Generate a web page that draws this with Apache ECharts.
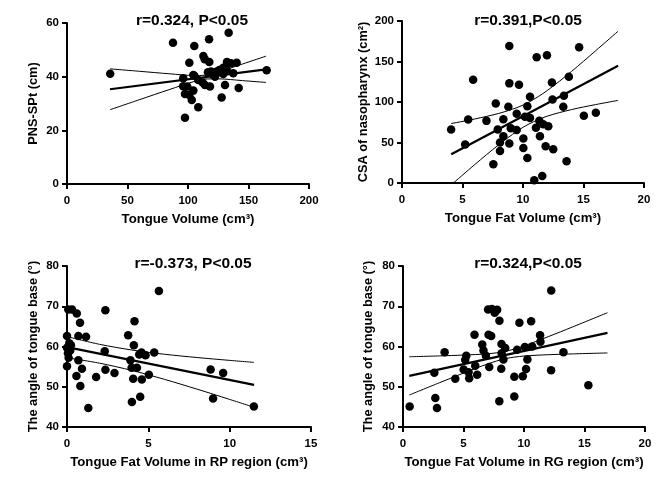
<!DOCTYPE html>
<html><head><meta charset="utf-8">
<script src="https://cdn.jsdelivr.net/npm/echarts@6/dist/echarts.min.js"></script>
<style>html,body{margin:0;padding:0;background:#fff}#c{width:669px;height:481px}</style>
</head><body><div id="c"></div>
<script>
// ---- Panel 1: Tongue Volume vs PNS-SPt ----
const p1Points = [[35.7,41.1],[87.6,52.6],[105.2,51.4],[117.4,53.9],[133.6,56.4],[101.1,45.2],[112.7,47.7],[113.8,46.5],[117.6,45.5],[132.2,45.5],[135.5,45.0],[140.2,45.2],[129.2,43.3],[132,42.5],[125.9,42.5],[123.7,41.9],[116.5,41.6],[120.9,40.6],[129.2,41.0],[137.4,41.3],[165,42.4],[104.4,40.6],[96.1,39.4],[108.5,38.8],[112.1,37.8],[114,36.9],[118.2,36.3],[122.3,40.0],[130.6,36.9],[141.9,35.8],[99.4,36.3],[96,36.4],[104.4,34.8],[97.5,33.5],[101.1,33.2],[103.1,31.3],[108.5,28.6],[127.8,32.2],[97.5,24.7],[119,41.9],[105.2,40.3]];
const p1Fit = [[35.5,35.3],[164.5,42.75]];
const p1Upper = [[35.5,42.92],[60,42.0],[85,41.06],[105,40.43],[114,40.53],[125,41.75],[145,44.71],[164.5,47.65]];
const p1Lower = [[35.5,27.68],[60,31.44],[85,35.26],[105,38.19],[114,39.13],[125,39.19],[145,38.53],[164.5,37.85]];

// ---- Panel 2: Tongue Fat Volume vs CSA of nasopharynx ----
const p2Points = [[8.87,169.1],[11.13,155.1],[11.98,157.6],[14.64,167.5],[5.88,127.4],[8.87,123],[9.67,121.2],[13.79,131.2],[12.39,124.2],[10.58,106.4],[12.44,103.2],[13.38,107.6],[7.75,98.2],[8.79,94],[10.36,94.8],[13.33,94],[5.47,78.4],[6.98,76.7],[8.38,78.8],[9.48,85.4],[10.16,81.7],[10.58,80.4],[11.35,76.7],[11.67,72.6],[12.09,70.1],[11.07,68.1],[15.03,82.9],[16.02,86.6],[4.06,66],[7.91,66],[8.99,67.7],[9.48,65.3],[8.38,57.8],[10.03,54.9],[11.4,57.8],[5.22,47.5],[8.1,50],[8.87,48.8],[10.03,43.3],[11.87,45.4],[12.5,41.7],[8.1,39.6],[10.36,30.9],[7.55,23.1],[13.6,26.8],[11.59,8.7],[10.93,3.3]];
const p2Fit = [[4.07,35.5],[17.86,144.7]];
const p2Upper = [[4.07,73.4],[6,79.0],[8,85.9],[9.5,93.1],[10.5,99.9],[12,114.1],[14,137.6],[16,163.2],[17.86,187.4]];
const p2Lower = [[4.25,0],[6,22.6],[8,47.3],[9.5,63.9],[10.5,72.9],[12,82.5],[14,90.6],[16,96.8],[17.86,102.0]];

// ---- Panel 3: Tongue Fat Volume in RP region vs angle ----
const p3Points = [[0.08,69.2],[0.31,69.2],[0.6,68.2],[0.8,65.9],[2.36,69.0],[5.65,73.8],[4.15,66.3],[0.0,62.6],[0.7,62.6],[1.17,62.4],[3.76,62.8],[4.11,60.3],[0.14,60.8],[0.24,60.3],[0.0,59.7],[0.2,59.0],[0.06,58.3],[0.1,57.2],[0.0,55.1],[0.7,56.6],[2.32,58.8],[2.36,54.2],[2.92,53.4],[3.9,56.6],[3.97,54.7],[4.3,54.7],[4.58,58.5],[4.83,57.8],[5.36,58.5],[4.44,58.0],[0.58,52.7],[0.92,54.5],[0.82,50.2],[1.79,52.4],[4.07,52.0],[4.6,51.8],[5.03,53.0],[1.31,44.7],[3.99,46.2],[4.5,47.5],[8.83,54.3],[9.6,53.4],[8.98,47.1],[11.49,45.1]];
const p3Fit = [[0,59.83],[11.5,50.48]];
const p3Upper = [[0,62.46],[2,60.54],[4,59.12],[6,58.07],[8,57.26],[10,56.55],[11.5,56.05]];
const p3Lower = [[0,57.2],[2,55.86],[4,54.04],[6,51.83],[8,49.4],[10,46.85],[11.5,44.91]];

// ---- Panel 4: Tongue Fat Volume in RG region vs angle ----
const p4Points = [[0.55,45.1],[2.59,53.5],[2.67,47.2],[2.81,44.7],[3.44,58.6],[4.32,52],[5.01,54.3],[5.14,56.7],[5.23,57.7],[5.42,53.6],[5.47,52.1],[5.97,55.2],[6.13,53],[5.91,62.9],[6.55,60.5],[6.65,59],[6.85,57.7],[7.13,54.9],[7.07,62.9],[7.29,62.6],[7.03,69.2],[7.35,69.3],[7.62,69.0],[7.78,69.1],[7.58,68.4],[7.97,66.4],[8.14,60.6],[8.15,58.3],[8.12,54.5],[8.3,56.8],[8.45,59.6],[7.96,46.4],[9.2,52.5],[9.2,47.6],[9.43,59.2],[9.62,65.9],[9.9,52.6],[10.07,59.9],[10.17,54.4],[10.28,56.8],[10.59,66.3],[10.68,60],[11.36,61.2],[11.33,62.8],[12.24,54.1],[12.25,73.9],[13.26,58.6],[15.32,50.4]];
const p4Fit = [[0.52,52.7],[16.9,63.4]];
const p4Upper = [[0.52,57.45],[3,57.66],[5,57.87],[7,58.19],[8.5,58.81],[10,60.15],[12,62.44],[14,64.84],[16.9,68.4]];
const p4Lower = [[0.52,47.95],[3,50.98],[5,53.39],[7,55.67],[8.5,57.01],[10,57.63],[12,57.96],[14,58.16],[16.9,58.4]];

const titles = ['r=0.324, P<0.05','r=0.391,P<0.05','r=-0.373, P<0.05','r=0.324,P<0.05'];
const xNames = ['Tongue Volume (cm³)','Tongue Fat Volume (cm³)','Tongue Fat Volume in RP region (cm³)','Tongue Fat Volume in RG region (cm³)'];
const yNames = ['PNS-SPt (cm)','CSA of nasopharynx (cm²)','The angle of tongue base (°)','The angle of tongue base (°)'];
const xRanges = [[0,200,50],[0,20,5],[0,15,5],[0,20,5]];
const yRanges = [[0,60,20],[0,200,50],[40,80,10],[40,80,10]];

const FONT = 'Liberation Sans, Arial, sans-serif';
const grids = [
  {left:67, right:360, top:23, bottom:297},
  {left:402, right:25, top:21, bottom:298},
  {left:67, right:358, top:266, bottom:54},
  {left:403, right:24, top:266, bottom:54}
];
const titlePos = [[187,8],[523,8],[188,251],[523,251]];
const yGaps = [27,32,27,28];
const panels = [
  [p1Points,p1Fit,p1Upper,p1Lower],
  [p2Points,p2Fit,p2Upper,p2Lower],
  [p3Points,p3Fit,p3Upper,p3Lower],
  [p4Points,p4Fit,p4Upper,p4Lower]
];

function axisBase(margin, nameSize){
  return {
    axisLine:{show:true,onZero:false,lineStyle:{color:'#000',width:2}},
    axisTick:{show:true,length:5,lineStyle:{color:'#000',width:2}},
    splitLine:{show:false},
    axisLabel:{color:'#000',fontSize:11.5,fontWeight:'bold',fontFamily:FONT,margin:margin},
    nameTextStyle:{color:'#000',fontSize:nameSize,fontWeight:'bold',fontFamily:FONT}
  };
}

const option = {
  animation:false,
  backgroundColor:'#fff',
  title: titles.map((t,i)=>({text:t,left:titlePos[i][0],top:titlePos[i][1],textAlign:'center',
    textStyle:{fontSize:15.5,fontWeight:'bold',color:'#000',fontFamily:FONT}})),
  grid: grids,
  xAxis: xRanges.map((r,i)=>Object.assign(axisBase(11,13.2), {type:'value',gridIndex:i,min:r[0],max:r[1],interval:r[2],
    name:xNames[i],nameLocation:'middle',nameGap:29})),
  yAxis: yRanges.map((r,i)=>Object.assign(axisBase(8,12.8), {type:'value',gridIndex:i,min:r[0],max:r[1],interval:r[2],
    name:yNames[i],nameLocation:'middle',nameGap:yGaps[i]})),
  series: []
};
panels.forEach((p,i)=>{
  option.series.push({type:'scatter',xAxisIndex:i,yAxisIndex:i,data:p[0],symbol:'circle',symbolSize:8.5,itemStyle:{color:'#000',opacity:1}});
  option.series.push({type:'line',xAxisIndex:i,yAxisIndex:i,data:p[1],showSymbol:false,lineStyle:{color:'#000',width:2.2}});
  option.series.push({type:'line',xAxisIndex:i,yAxisIndex:i,data:p[2],showSymbol:false,smooth:0.3,lineStyle:{color:'#000',width:1}});
  option.series.push({type:'line',xAxisIndex:i,yAxisIndex:i,data:p[3],showSymbol:false,smooth:0.3,lineStyle:{color:'#000',width:1}});
});
const chart = echarts.init(document.getElementById('c'));
chart.setOption(option);
</script>
</body></html>
